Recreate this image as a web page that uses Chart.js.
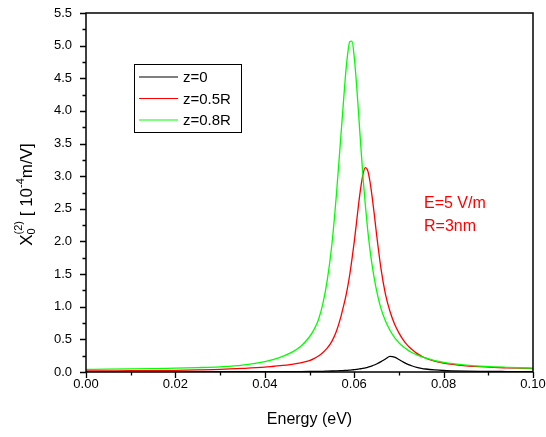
<!DOCTYPE html>
<html>
<head>
<meta charset="utf-8">
<script src="https://cdn.jsdelivr.net/npm/chart.js@4/dist/chart.umd.min.js"></script>
<style>
body { margin: 0; background: #fff; }
#wrap { width: 546px; height: 437px; }
</style>
</head>
<body>
<div id="wrap"><canvas id="myChart" width="546" height="437"></canvas></div>
<script>
// photon energy (eV)
const energy = [0.000, 0.005, 0.010, 0.015, 0.020, 0.025, 0.030, 0.035, 0.040, 0.042,
    0.044, 0.046, 0.048, 0.050, 0.051, 0.052, 0.053, 0.054, 0.055, 0.056,
    0.057, 0.0575, 0.058, 0.0585, 0.059, 0.0595, 0.060, 0.0605, 0.061, 0.0615,
    0.062, 0.0625, 0.063, 0.0635, 0.064, 0.0645, 0.065, 0.066, 0.067, 0.068,
    0.069, 0.070, 0.071, 0.072, 0.073, 0.074, 0.075, 0.076, 0.078, 0.080,
    0.082, 0.085, 0.088, 0.091, 0.094, 0.097, 0.100];

// z=0
const chiZ0 = [0.002, 0.002, 0.003, 0.003, 0.003, 0.004, 0.004, 0.004, 0.005, 0.006,
    0.006, 0.007, 0.007, 0.008, 0.009, 0.010, 0.011, 0.013, 0.015, 0.017,
    0.020, 0.022, 0.024, 0.026, 0.029, 0.032, 0.036, 0.040, 0.045, 0.050,
    0.057, 0.064, 0.072, 0.082, 0.094, 0.107, 0.122, 0.158, 0.200, 0.238,
    0.228, 0.192, 0.152, 0.118, 0.092, 0.072, 0.057, 0.046, 0.032, 0.023,
    0.018, 0.013, 0.010, 0.008, 0.007, 0.006, 0.005];

// z=0.5R
const chiZ05 = [0.015, 0.017, 0.019, 0.022, 0.026, 0.032, 0.040, 0.055, 0.075, 0.088,
    0.100, 0.118, 0.140, 0.175, 0.205, 0.245, 0.300, 0.370, 0.470, 0.620,
    0.840, 0.980, 1.120, 1.290, 1.490, 1.730, 1.990, 2.280, 2.580, 2.840,
    3.040, 3.130, 3.090, 2.930, 2.690, 2.410, 2.110, 1.580, 1.190, 0.930,
    0.740, 0.600, 0.490, 0.405, 0.340, 0.285, 0.245, 0.212, 0.168, 0.138,
    0.116, 0.095, 0.081, 0.071, 0.064, 0.058, 0.053];

// z=0.8R
const chiZ08 = [0.040, 0.043, 0.047, 0.052, 0.058, 0.067, 0.080, 0.105, 0.160, 0.195,
    0.240, 0.300, 0.390, 0.540, 0.650, 0.800, 1.050, 1.420, 1.950, 2.700,
    3.600, 4.050, 4.500, 4.850, 5.060, 5.070, 4.830, 4.430, 3.940, 3.440,
    2.960, 2.550, 2.190, 1.890, 1.640, 1.430, 1.250, 0.970, 0.780, 0.640,
    0.530, 0.450, 0.385, 0.335, 0.295, 0.262, 0.235, 0.212, 0.175, 0.148,
    0.128, 0.106, 0.091, 0.080, 0.072, 0.065, 0.060];

const seriesNames = ['z=0', 'z=0.5R', 'z=0.8R'];
const seriesColors = ['#000000', '#ff0000', '#00ff00'];

const xMajor = [0, 0.02, 0.04, 0.06, 0.08, 0.10];
const xMinor = [0.01, 0.03, 0.05, 0.07, 0.09];
const yMajor = [0, 0.5, 1.0, 1.5, 2.0, 2.5, 3.0, 3.5, 4.0, 4.5, 5.0, 5.5];
const yMinor = [0.25, 0.75, 1.25, 1.75, 2.25, 2.75, 3.25, 3.75, 4.25, 4.75, 5.25];

const noteLines = ['E=5 V/m', 'R=3nm'];

const FONT = '"Liberation Sans", Arial, sans-serif';

function toPoints(ys) {
    return energy.map((e, i) => ({ x: e, y: ys[i] }));
}

// frame, tick marks, legend box, note and axis titles
const decorPlugin = {
    id: 'decor',
    afterDraw(chart) {
        const ctx = chart.ctx;
        const a = chart.chartArea;
        const xs = chart.scales.x;
        const ys = chart.scales.y;
        ctx.save();

        ctx.strokeStyle = '#000';
        ctx.lineWidth = 1.5;
        ctx.strokeRect(a.left, a.top, a.right - a.left, a.bottom - a.top);

        ctx.lineWidth = 1.3;
        ctx.beginPath();
        xMajor.forEach(v => {
            let px = Math.round(xs.getPixelForValue(v)) + 0.5;
            ctx.moveTo(px, a.bottom); ctx.lineTo(px, a.bottom + 6);
        });
        xMinor.forEach(v => {
            let px = Math.round(xs.getPixelForValue(v)) + 0.5;
            ctx.moveTo(px, a.bottom); ctx.lineTo(px, a.bottom + 3.5);
        });
        yMajor.forEach(v => {
            let py = Math.round(ys.getPixelForValue(v)) + 0.5;
            ctx.moveTo(a.left, py); ctx.lineTo(a.left - 6, py);
        });
        yMinor.forEach(v => {
            let py = Math.round(ys.getPixelForValue(v)) + 0.5;
            ctx.moveTo(a.left, py); ctx.lineTo(a.left - 3.5, py);
        });
        ctx.stroke();

        // legend
        ctx.lineWidth = 1;
        ctx.strokeStyle = '#000';
        ctx.strokeRect(134.5, 64.5, 107, 68);
        ctx.font = '15px ' + FONT;
        ctx.textBaseline = 'middle';
        ctx.textAlign = 'left';
        seriesNames.forEach((name, i) => {
            let y = 77 + i * 21.5;
            ctx.strokeStyle = seriesColors[i];
            ctx.lineWidth = 1.2;
            ctx.beginPath();
            ctx.moveTo(139, y); ctx.lineTo(178, y);
            ctx.stroke();
            ctx.fillStyle = '#000';
            ctx.fillText(name, 183, y + 1);
        });

        // note
        ctx.fillStyle = '#ff0000';
        ctx.font = '16px ' + FONT;
        noteLines.forEach((t, i) => ctx.fillText(t, 424, 204 + i * 23));

        // x title
        ctx.fillStyle = '#000';
        ctx.font = '16px ' + FONT;
        ctx.textAlign = 'center';
        ctx.fillText('Energy (eV)', (a.left + a.right) / 2, 420);

        // y title with sub/superscripts
        ctx.translate(26, (a.top + a.bottom) / 2 + 2);
        ctx.rotate(-Math.PI / 2);
        ctx.textAlign = 'left';
        ctx.textBaseline = 'alphabetic';
        const big = '17px ' + FONT;
        const small = '11px ' + FONT;
        const parts = [
            { t: 'X', f: big, dy: 0 },
            { t: '0', f: small, dy: 3, stackWith: '(2)', sdy: -10 },
            { t: ' [ 10', f: big, dy: 0 },
            { t: '-4', f: small, dy: -8 },
            { t: 'm/V]', f: big, dy: 0 }
        ];
        let total = 0;
        parts.forEach(p => {
            ctx.font = p.f;
            let w = ctx.measureText(p.t).width;
            if (p.stackWith) w = Math.max(w, ctx.measureText(p.stackWith).width);
            p.w = w;
            total += w;
        });
        let x = -total / 2;
        parts.forEach(p => {
            ctx.font = p.f;
            ctx.fillText(p.t, x, 6 + p.dy);
            if (p.stackWith) ctx.fillText(p.stackWith, x, 6 + p.sdy);
            x += p.w;
        });

        ctx.restore();
    }
};

const ctx = document.getElementById('myChart').getContext('2d');
const datasets = [chiZ0, chiZ05, chiZ08].map((vals, i) => ({
    label: seriesNames[i],
    data: toPoints(vals),
    borderColor: seriesColors[i],
    borderWidth: 1.3,
    pointRadius: 0,
    fill: false,
    cubicInterpolationMode: 'monotone',
    order: 2 - i
}));

new Chart(ctx, {
    type: 'line',
    data: { datasets: datasets },
    options: {
        responsive: false,
        animation: false,
        layout: { padding: { top: 13, right: 13, left: 0, bottom: 0 } },
        plugins: {
            legend: { display: false },
            tooltip: { enabled: false }
        },
        scales: {
            x: {
                type: 'linear',
                min: 0,
                max: 0.1,
                afterBuildTicks: s => { s.ticks = xMajor.map(v => ({ value: v })); },
                afterFit: s => { s.height = 65; s.paddingLeft = 0; s.paddingRight = 0; },
                grid: { display: false, drawTicks: false },
                border: { display: false },
                ticks: {
                    color: '#000',
                    padding: 5,
                    maxRotation: 0,
                    font: { family: FONT, size: 13 },
                    callback: v => v.toFixed(2)
                }
            },
            y: {
                type: 'linear',
                min: 0,
                max: 5.5,
                afterBuildTicks: s => { s.ticks = yMajor.map(v => ({ value: v })); },
                afterFit: s => { s.width = 86; s.paddingTop = 0; s.paddingBottom = 0; },
                grid: { display: false, drawTicks: false },
                border: { display: false },
                ticks: {
                    color: '#000',
                    padding: 14,
                    font: { family: FONT, size: 13 },
                    callback: v => v.toFixed(1)
                }
            }
        }
    },
    plugins: [decorPlugin]
});
</script>
</body>
</html>
